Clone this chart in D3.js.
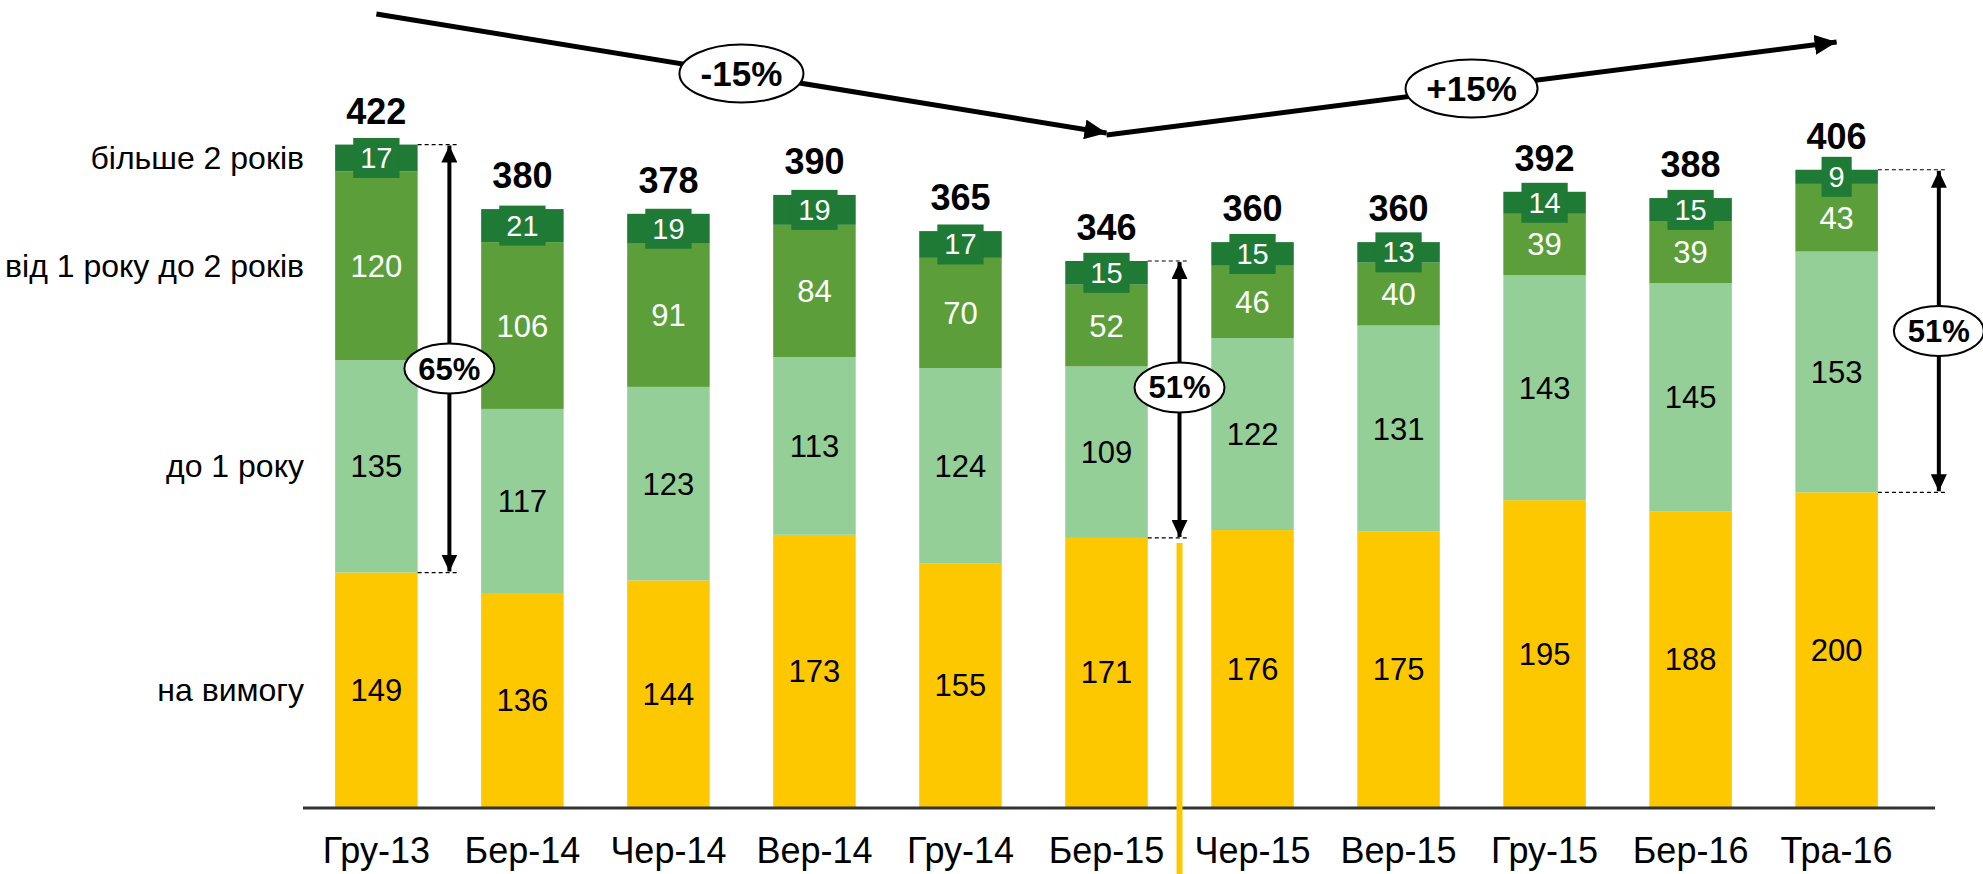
<!DOCTYPE html>
<html lang="uk">
<head>
<meta charset="UTF-8">
<title>Депозити за строками</title>
<style>
  body { margin: 0; background: #fff; }
  svg { display: block; font-family: "Liberation Sans", Arial, sans-serif; }
</style>
</head>
<body>
<svg id="chart"></svg>
<script src="https://cdn.jsdelivr.net/npm/d3@7"></script>
<script>
// categories and series
const periods = ['Гру-13', 'Бер-14', 'Чер-14', 'Вер-14', 'Гру-14', 'Бер-15', 'Чер-15', 'Вер-15', 'Гру-15', 'Бер-16', 'Тра-16'];
const onDemand = [149, 136, 144, 173, 155, 171, 176, 175, 195, 188, 200];
const upTo1y = [135, 117, 123, 113, 124, 109, 122, 131, 143, 145, 153];
const from1to2y = [120, 106, 91, 84, 70, 52, 46, 40, 39, 39, 43];
const over2y = [17, 21, 19, 19, 17, 15, 15, 13, 14, 15, 9];
const totals = [422, 380, 378, 390, 365, 346, 360, 360, 392, 388, 406];
const seriesNames = ['на вимогу', 'до 1 року', 'від 1 року до 2 років', 'більше 2 років'];
// share annotations (index of period, label)
const shareIdx = [0, 5, 10];
const shareLabels = ['65%', '51%', '51%'];
const trendLabels = ['-15%', '+15%'];

const W = 1983, H = 874;
const svg = d3.select('#chart').attr('width', W).attr('height', H);

const colors = ['#FDC800', '#94CF97', '#5C9F3A', '#1F7A35'];
const textColors = ['#000', '#000', '#fff', '#fff'];

const x = d3.scaleBand().domain(periods).range([303, 1910]).paddingInner(0.435).paddingOuter(0.22);
const y = d3.scaleLinear().domain([0, 422]).range([807, 143]);
const cx = p => x(p) + x.bandwidth() / 2;

const table = periods.map((p, i) => ({ p, s0: onDemand[i], s1: upTo1y[i], s2: from1to2y[i], s3: over2y[i] }));
const stack = d3.stack().keys(['s0', 's1', 's2', 's3'])(table);

// bars
const layers = svg.selectAll('g.layer').data(stack).enter().append('g').attr('class', 'layer')
  .attr('fill', (d, i) => colors[i]);
layers.selectAll('rect').data(d => d).enter().append('rect')
  .attr('x', d => x(d.data.p))
  .attr('width', x.bandwidth())
  .attr('y', d => y(d[1]))
  .attr('height', d => y(d[0]) - y(d[1]));

// baseline
svg.append('line').attr('x1', 303).attr('x2', 1935).attr('y1', y(0) + 1).attr('y2', y(0) + 1)
  .attr('stroke', '#333').attr('stroke-width', 3);

// segment labels
stack.forEach((layer, k) => {
  const g = svg.append('g');
  layer.forEach(d => {
    const v = d[1] - d[0];
    const my = (y(d[0]) + y(d[1])) / 2;
    if (k === 3) {
      const t = g.append('text').attr('x', cx(d.data.p)).attr('y', my + 10)
        .attr('text-anchor', 'middle').attr('font-size', 29).attr('fill', '#fff').text(v);
      const tw = t.node().getComputedTextLength();
      g.insert('rect', () => t.node())
        .attr('x', cx(d.data.p) - tw / 2 - 7).attr('width', tw + 14)
        .attr('y', my - 20).attr('height', 40).attr('fill', colors[3]);
    } else {
      g.append('text').attr('x', cx(d.data.p)).attr('y', my + 11)
        .attr('text-anchor', 'middle').attr('font-size', 31).attr('fill', textColors[k]).text(v);
    }
  });
});

// totals
svg.selectAll('text.total').data(periods).enter().append('text').attr('class', 'total')
  .attr('x', p => cx(p))
  .attr('y', (p, i) => y(stack[3][i][1]) - 21)
  .attr('text-anchor', 'middle').attr('font-size', 36).attr('font-weight', 'bold')
  .text((p, i) => totals[i]);

// left series labels, at the middle of the first bar's segments
svg.selectAll('text.series').data(stack).enter().append('text').attr('class', 'series')
  .attr('x', 304)
  .attr('y', (d, k) => (y(d[0][0]) + y(d[0][1])) / 2 + 11)
  .attr('text-anchor', 'end').attr('font-size', 32)
  .text((d, k) => seriesNames[k]);

// category axis labels
svg.selectAll('text.cat').data(periods).enter().append('text').attr('class', 'cat')
  .attr('x', p => cx(p)).attr('y', 863)
  .attr('text-anchor', 'middle').attr('font-size', 36)
  .text(p => p);

// arrow markers
const defs = svg.append('defs');
defs.append('marker').attr('id', 'head').attr('viewBox', '0 0 10 10')
  .attr('refX', 10).attr('refY', 5).attr('markerWidth', 17).attr('markerHeight', 16)
  .attr('markerUnits', 'userSpaceOnUse').attr('orient', 'auto-start-reverse')
  .attr('preserveAspectRatio', 'none')
  .append('path').attr('d', 'M0,0 L10,5 L0,10 Z').attr('fill', '#000');
defs.append('marker').attr('id', 'head2').attr('viewBox', '0 0 10 10')
  .attr('refX', 10).attr('refY', 5).attr('markerWidth', 22).attr('markerHeight', 20)
  .attr('markerUnits', 'userSpaceOnUse').attr('orient', 'auto-start-reverse')
  .attr('preserveAspectRatio', 'none')
  .append('path').attr('d', 'M0,0 L10,5 L0,10 Z').attr('fill', '#000');

// yellow divider between Бер-15 and Чер-15
const divX = (cx(periods[5]) + cx(periods[6])) / 2;
svg.append('line').attr('x1', divX).attr('x2', divX).attr('y1', y(onDemand[5]) + 5).attr('y2', H)
  .attr('stroke', colors[0]).attr('stroke-width', 6);

// share arrows
const shareDx = [0.5, 0.5, 0.7];
const shareDy = [10, -12, 0];
shareIdx.forEach((i, n) => {
  const p = periods[i];
  const ax = cx(p) + x.step() * shareDx[n];
  const yTop = y(stack[3][i][1]);
  const yBot = y(onDemand[i]);
  const g = svg.append('g');
  [yTop, yBot].forEach(yy => {
    g.append('line').attr('x1', x(p) + x.bandwidth()).attr('x2', ax + 8)
      .attr('y1', yy).attr('y2', yy).attr('stroke', '#000').attr('stroke-width', 1.2)
      .attr('stroke-dasharray', '4,3');
  });
  g.append('line').attr('x1', ax).attr('x2', ax).attr('y1', yTop + 1).attr('y2', yBot - 1)
    .attr('stroke', '#000').attr('stroke-width', 4)
    .attr('marker-start', 'url(#head)').attr('marker-end', 'url(#head)');
  const my = (yTop + yBot) / 2 + shareDy[n];
  g.append('ellipse').attr('cx', ax).attr('cy', my).attr('rx', 45).attr('ry', 25)
    .attr('fill', '#fff').attr('stroke', '#000').attr('stroke-width', 2);
  g.append('text').attr('x', ax).attr('y', my + 11).attr('text-anchor', 'middle')
    .attr('font-size', 31).attr('font-weight', 'bold').text(shareLabels[n]);
});

// trend arrows
const trends = [
  { a: [cx(periods[0]), 14], b: [cx(periods[5]), 133], rx: 62 },
  { a: [cx(periods[5]), 135], b: [cx(periods[10]), 42], rx: 66 }
];
trends.forEach((t, n) => {
  svg.append('line').attr('x1', t.a[0]).attr('y1', t.a[1]).attr('x2', t.b[0]).attr('y2', t.b[1])
    .attr('stroke', '#000').attr('stroke-width', 5).attr('marker-end', 'url(#head2)');
  const mx = (t.a[0] + t.b[0]) / 2, my = (t.a[1] + t.b[1]) / 2;
  svg.append('ellipse').attr('cx', mx).attr('cy', my).attr('rx', t.rx).attr('ry', 29)
    .attr('fill', '#fff').attr('stroke', '#000').attr('stroke-width', 2);
  svg.append('text').attr('x', mx).attr('y', my + 12).attr('text-anchor', 'middle')
    .attr('font-size', 35).attr('font-weight', 'bold').text(trendLabels[n]);
});
</script>
</body>
</html>
